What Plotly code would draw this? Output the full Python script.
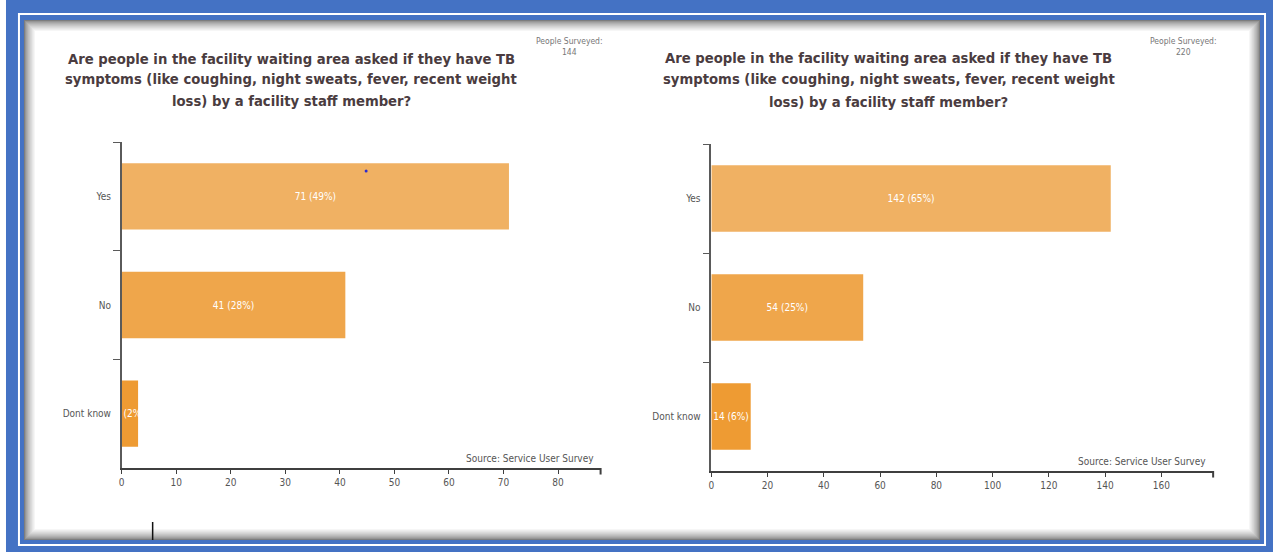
import plotly.graph_objects as go

# Survey responses: one panel per facility
categories = ["Yes", "No", "Dont know"]
counts_a = [71, 41, 3]
counts_b = [142, 54, 14]
surveyed_a = 144
surveyed_b = 220
x_ticks_a = [0, 10, 20, 30, 40, 50, 60, 70, 80]
x_ticks_b = [0, 20, 40, 60, 80, 100, 120, 140, 160]

question_lines = [
    "Are people in the facility waiting area asked if they have TB",
    "symptoms (like coughing, night sweats, fever, recent weight",
    "loss) by a facility staff member?",
]
source_note = "Source: Service User Survey"

W, H = 1273, 552
bar_colors = ["#F0B163", "#EFA64B", "#EE9B33"]
FONT = "DejaVu Sans Condensed, Liberation Sans Narrow, Liberation Sans, sans-serif"
TICK_COLOR = "#555555"


def px(x):
    return x / W


def py(y):
    return 1 - y / H


def labels(counts, total):
    return [f"{v} ({int(v / total * 100 + 0.5)}%)" for v in counts]


fig = go.Figure()

for i, (counts, total) in enumerate([(counts_a, surveyed_a), (counts_b, surveyed_b)]):
    suffix = "" if i == 0 else "2"
    fig.add_trace(go.Bar(
        x=counts, y=categories, orientation="h",
        marker=dict(color=bar_colors, line=dict(width=0)),
        text=labels(counts, total),
        textposition="inside", insidetextanchor="middle",
        textangle=0, constraintext="none",
        insidetextfont=dict(color="white", size=10, family=FONT),
        cliponaxis=True,
        xaxis="x" + suffix, yaxis="y" + suffix,
        hoverinfo="skip", showlegend=False,
    ))

axis_common = dict(
    showgrid=False, zeroline=False, showline=True,
    ticks="outside", tickfont=dict(family=FONT, size=10, color=TICK_COLOR),
)

layout = dict(
    width=W, height=H,
    margin=dict(l=0, r=0, t=0, b=0),
    paper_bgcolor="white",
    plot_bgcolor="rgba(0,0,0,0)",
    bargap=0.39,
    font=dict(family=FONT),
    xaxis=dict(axis_common, domain=[px(119), px(599)], range=[0, 87.8],
               tickvals=x_ticks_a, linecolor="#3f3f3f", linewidth=2,
               ticklen=4, tickcolor="#3f3f3f", anchor="y"),
    yaxis=dict(axis_common, domain=[py(468), py(142)], type="category",
               categoryarray=categories, range=[2.5, -0.5],
               tickson="boundaries", linecolor="#5a5a5a", linewidth=1.5,
               ticklen=7, tickcolor="#5a5a5a", ticklabelstandoff=7,
               anchor="x"),
    xaxis2=dict(axis_common, domain=[px(710), px(1213)], range=[0, 178.4],
                tickvals=x_ticks_b, linecolor="#3f3f3f", linewidth=2,
                ticklen=4, tickcolor="#3f3f3f", anchor="y2"),
    yaxis2=dict(axis_common, domain=[py(471), py(144)], type="category",
                categoryarray=categories, range=[2.5, -0.5],
                tickson="boundaries", linecolor="#5a5a5a", linewidth=1.5,
                ticklen=7, tickcolor="#5a5a5a", ticklabelstandoff=7,
                anchor="x2"),
)
fig.update_layout(**layout)

# Double blue frame with a shaded inner panel
shapes = []


def rect(x0, y0, x1, y1, color):
    shapes.append(dict(type="rect", xref="paper", yref="paper",
                       x0=px(x0), x1=px(x1), y0=py(y1), y1=py(y0),
                       fillcolor=color, line=dict(width=0), layer="below"))


rect(3, 0, W, H, "#4472C4")
rect(15, 13, 1266, 546, "#FFFFFF")
rect(17, 15, 1264, 544, "#4472C4")
steps = 12
for k in range(steps):
    t = (k / (steps - 1)) ** 0.7
    g = int(125 + (255 - 125) * t)
    rect(21 + k, 20 + k, 1260 - k, 540 - k, f"rgb({g},{g},{g})")

# Closing ticks at the right end of each value axis
for xa, ya in [("x", "y"), ("x2", "y2")]:
    shapes.append(dict(type="line", xref=f"{xa} domain", yref=f"{ya} domain",
                       x0=1, x1=1, y0=0, y1=-0.02,
                       line=dict(color="#3f3f3f", width=2)))

# Small marker dot and cursor line
shapes.append(dict(type="circle", xref="paper", yref="paper",
                   x0=px(362.5), x1=px(365.5), y0=py(172.5), y1=py(169.5),
                   fillcolor="#2a2ad0", line=dict(width=0)))
shapes.append(dict(type="line", xref="paper", yref="paper",
                   x0=px(150), x1=px(150), y0=py(540), y1=py(522),
                   line=dict(color="#111111", width=1.5)))
fig.update_layout(shapes=shapes)

annotations = []
for cx, line_ys, sx, src_x, src_y, total in [
        (289, [58, 79, 100], 568, 594, 458, surveyed_a),
        (888, [57, 79, 101], 1183, 1208, 461, surveyed_b)]:
    for line, ly in zip(question_lines, line_ys):
        annotations.append(dict(
            x=px(cx), y=py(ly), xref="paper", yref="paper",
            text="<b>" + line + "</b>", showarrow=False,
            xanchor="center", yanchor="middle",
            font=dict(family=FONT, size=14.7, color="#4a3c40"),
        ))
    annotations.append(dict(
        x=px(sx), y=py(46), xref="paper", yref="paper",
        text=f"People Surveyed:<br>{total}", showarrow=False,
        xanchor="center", yanchor="middle", align="center",
        font=dict(family=FONT, size=8.5, color="#777777"),
    ))
    annotations.append(dict(
        x=px(src_x), y=py(src_y), xref="paper", yref="paper",
        text=source_note, showarrow=False,
        xanchor="right", yanchor="middle",
        font=dict(family=FONT, size=10, color="#555555"),
    ))
fig.update_layout(annotations=annotations)

fig.write_html("out.html")
